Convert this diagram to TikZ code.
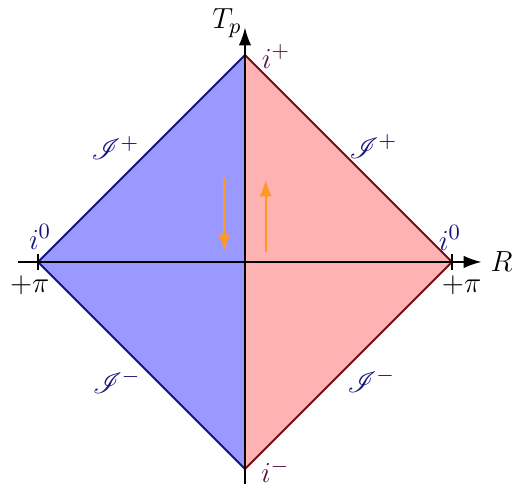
\documentclass[tikz,border=0pt]{standalone}
\usepackage{amsmath}
\usepackage{mathrsfs}
\usetikzlibrary{arrows.meta, positioning}

\definecolor{scriblue}{rgb}{0.08,0.08,0.50}
\definecolor{edgered}{rgb}{0.45,0.05,0.10}
\definecolor{ipurple}{rgb}{0.35,0.08,0.25}
\definecolor{floworange}{rgb}{1.0,0.60,0.15}

\begin{document}
\begin{tikzpicture}[
  every node/.style={font=\fontsize{12.5}{15}\selectfont},
  axis/.style={thick, -{Latex[length=2.6mm,width=1.8mm]}},
  flow/.style={floworange, line width=0.9pt, -{Latex[length=2.4mm,width=1.8mm]}},
  tick/.style={thick},
  lbl/.style={scriblue},
  ilbl/.style={ipurple}]

  \useasboundingbox (-3.551,-3.406) rectangle (3.986,3.797);

  % corners of the diagram
  \coordinate (ip) at (0,3);
  \coordinate (im) at (0,-3);
  \coordinate (il) at (-3,0);
  \coordinate (ir) at (3,0);

  % the two halves
  \fill[blue!40] (im) -- (il) -- (ip) -- cycle;
  \fill[red!30] (im) -- (ir) -- (ip) -- cycle;
  \draw[scriblue, line width=0.8pt] (im) -- (il) -- (ip);
  \draw[edgered, line width=0.8pt] (im) -- (ir) -- (ip);

  % axes
  \coordinate (xa) at (-3.29,0);
  \coordinate (xb) at (3.43,0);
  \coordinate (ya) at (0,-3.22);
  \coordinate (yb) at (0,3.4);
  \draw[axis] (xa) -- (xb) node[right](R){$R$};
  \draw[axis] (ya) -- (yb);
  \node (Tp) at (-0.26,3.46) {$T_p$};

  % ticks at spatial infinity
  \draw[tick] ([yshift=-0.12cm]il) -- ([yshift=0.12cm]il);
  \draw[tick] ([yshift=-0.12cm]ir) -- ([yshift=0.12cm]ir);
  \node (pil) at (-3.12,-0.34) {$+\pi$};
  \node (pir) at (3.14,-0.34) {$+\pi$};

  % labels
  \node[lbl] (i0l) at (-2.97,0.36) {$i^0$};
  \node[lbl] (i0r) at (2.97,0.35) {$i^0$};
  \node[ilbl] (ipl) at (0.45,2.98) {$i^+$};
  \node[ilbl] (iml) at (0.44,-3.03) {$i^-$};
  \node[lbl] (sptl) at (-1.88,1.65) {$\mathscr{I}^+$};
  \node[lbl] (sptr) at (1.86,1.67) {$\mathscr{I}^+$};
  \node[lbl] (smil) at (-1.86,-1.73) {$\mathscr{I}^-$};
  \node[lbl] (smir) at (1.83,-1.72) {$\mathscr{I}^-$};

  % orange arrows
  \coordinate (fla) at (-0.30,1.22);
  \coordinate (flb) at (-0.30,0.16);
  \coordinate (fra) at (0.30,0.14);
  \coordinate (frb) at (0.30,1.19);
  \draw[flow] (fla) -- (flb);
  \draw[flow] (fra) -- (frb);
\end{tikzpicture}
\end{document}
